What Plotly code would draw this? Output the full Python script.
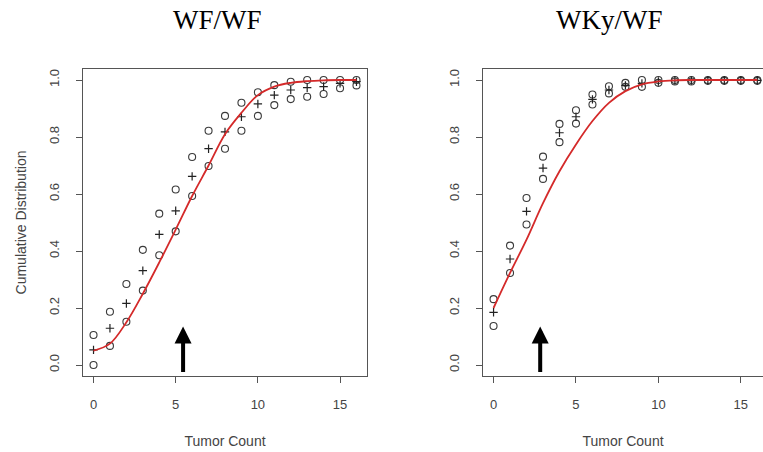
import plotly.graph_objects as go

# ---------------- data ----------------
tumor_count = list(range(17))

wf_upper = [0.105, 0.187, 0.284, 0.404, 0.531, 0.616, 0.730, 0.822, 0.874, 0.920, 0.957, 0.982, 0.994, 1.0, 1.0, 1.0, 1.0]
wf_lower = [0.0, 0.067, 0.152, 0.261, 0.385, 0.469, 0.593, 0.698, 0.759, 0.822, 0.874, 0.912, 0.933, 0.941, 0.951, 0.971, 0.981]
wf_mid   = [0.053, 0.129, 0.216, 0.331, 0.458, 0.541, 0.662, 0.759, 0.818, 0.871, 0.916, 0.947, 0.965, 0.973, 0.977, 0.988, 0.994]
wf_fit   = [0.05, 0.075, 0.15, 0.25, 0.36, 0.475, 0.593, 0.70, 0.81, 0.885, 0.947, 0.977, 0.99, 0.996, 0.999, 1.0, 1.0]

wky_upper = [0.231, 0.419, 0.586, 0.731, 0.846, 0.894, 0.949, 0.978, 0.99, 1.0, 1.0, 1.0, 1.0, 1.0, 1.0, 1.0, 1.0]
wky_lower = [0.137, 0.323, 0.493, 0.653, 0.782, 0.847, 0.914, 0.953, 0.976, 0.976, 0.99, 0.995, 0.995, 0.997, 0.997, 0.997, 0.997]
wky_mid   = [0.185, 0.372, 0.539, 0.691, 0.815, 0.871, 0.932, 0.965, 0.981, 0.988, 0.995, 0.998, 0.998, 0.999, 0.999, 0.999, 0.999]
wky_fit   = [0.20, 0.323, 0.44, 0.568, 0.68, 0.774, 0.856, 0.92, 0.961, 0.985, 0.995, 0.999, 1.0, 1.0, 1.0, 1.0, 1.0]

arrow_x = {"WF/WF": 5.45, "WKy/WF": 2.83}
arrow_tip = 0.135
arrow_base = -0.03

x_ticks = [0, 5, 10, 15]
y_ticks = [0.0, 0.2, 0.4, 0.6, 0.8, 1.0]
y_ticklabels = ["0.0", "0.2", "0.4", "0.6", "0.8", "1.0"]

panel_titles = ["WF/WF", "WKy/WF"]

# ---------------- figure ----------------
fig = go.Figure()

PT_COLOR = "#3a3a3a"
RED = "#d42a2a"

def add_panel(xa, ya, upper, lower, mid, fit):
    for vals in (upper, lower):
        fig.add_trace(go.Scatter(
            x=tumor_count, y=vals, mode="markers", xaxis=xa, yaxis=ya,
            marker=dict(symbol="circle-open", size=7, color=PT_COLOR,
                        line=dict(width=1.1, color=PT_COLOR)),
            showlegend=False, cliponaxis=False))
    fig.add_trace(go.Scatter(
        x=tumor_count, y=mid, mode="markers", xaxis=xa, yaxis=ya,
        marker=dict(symbol="cross-thin-open", size=6, color="#222",
                    line=dict(width=1.2, color="#222")),
        showlegend=False, cliponaxis=False))
    fig.add_trace(go.Scatter(
        x=tumor_count, y=fit, mode="lines", xaxis=xa, yaxis=ya,
        line=dict(color=RED, width=1.8, shape="spline", smoothing=1.0),
        showlegend=False))

add_panel("x", "y", wf_upper, wf_lower, wf_mid, wf_fit)
add_panel("x2", "y2", wky_upper, wky_lower, wky_mid, wky_fit)

W, H = 763, 452
y_dom = [1 - 376.4 / H, 1 - 68.6 / H]

sans = "Liberation Sans, Arial, sans-serif"
tick_font = dict(family=sans, size=13, color="#444")
axis_common = dict(showgrid=False, zeroline=False, showline=True, linecolor="#555",
                   linewidth=1, ticks="outside", ticklen=6, tickcolor="#555",
                   tickwidth=1, tickfont=tick_font)

fig.update_layout(
    width=W, height=H,
    margin=dict(l=0, r=0, t=0, b=0),
    paper_bgcolor="white", plot_bgcolor="white",
    xaxis=dict(domain=[83 / W, 367 / W], range=[-0.64, 16.64], tickvals=x_ticks,
               mirror=True, anchor="y", ticklabelstandoff=10,
               title=dict(text="Tumor Count", font=dict(family=sans, size=14, color="#444"), standoff=25),
               **axis_common),
    yaxis=dict(domain=y_dom, range=[-0.04, 1.04], tickvals=y_ticks, ticktext=y_ticklabels,
               tickangle=-90, mirror=True, anchor="x", ticklabelstandoff=12,
               title=dict(text="Cumulative Distribution", font=dict(family=sans, size=14, color="#444"), standoff=16),
               **axis_common),
    xaxis2=dict(domain=[483 / W, 1.0], range=[-0.64, 16.345], tickvals=x_ticks,
                mirror=True, anchor="y2", ticklabelstandoff=10,
                title=dict(text="Tumor Count", font=dict(family=sans, size=14, color="#444"), standoff=25),
                **axis_common),
    yaxis2=dict(domain=y_dom, range=[-0.04, 1.04], tickvals=y_ticks, ticktext=y_ticklabels,
                tickangle=-90, mirror=False, anchor="x2", ticklabelstandoff=12,
                **axis_common),
)

# arrows
for name, xr, yr in (("WF/WF", "x", "y"), ("WKy/WF", "x2", "y2")):
    fig.add_annotation(x=arrow_x[name], y=arrow_tip, ax=arrow_x[name], ay=arrow_base,
                       xref=xr, yref=yr, axref=xr, ayref=yr, text="",
                       showarrow=True, arrowhead=2, arrowwidth=4, arrowsize=0.85,
                       arrowcolor="black", standoff=0)

# panel titles
for title, cx in zip(panel_titles, [217.5, 609]):
    fig.add_annotation(x=cx / W, y=1 - 20 / H, xref="paper", yref="paper",
                       text=title, showarrow=False, xanchor="center", yanchor="middle",
                       font=dict(family="Liberation Serif, Times New Roman, serif", size=27, color="black"))

fig.write_html("out.html", config={"displayModeBar": False},
               post_script="document.body.style.margin='0';document.body.style.overflow='hidden';")
